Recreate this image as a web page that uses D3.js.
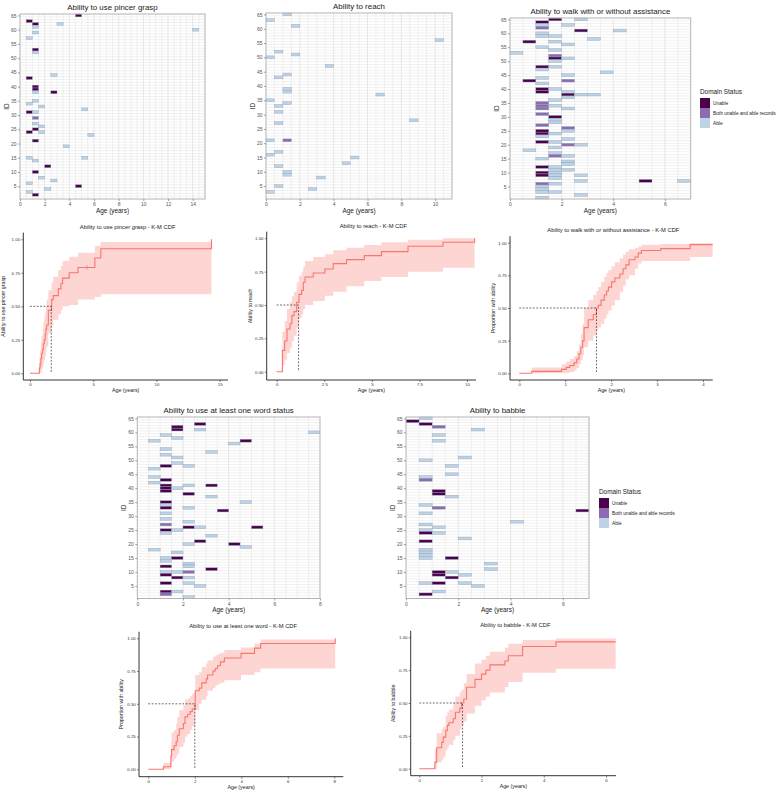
<!DOCTYPE html>
<html>
<head>
<meta charset="utf-8">
<script src="https://cdn.jsdelivr.net/npm/d3@7"></script>
<style>
	body { margin: 0; background: #fff; }
	svg { display: block; font-family: "Liberation Sans", Arial, Helvetica, sans-serif; }
</style>
</head>
<body>
<svg id="chart" width="784" height="792"></svg>
<script>
(function() {
	"use strict";

	var statusCodes = ['U', 'B', 'A'];
	var statusLabels = ['Unable', 'Both unable and able records', 'Able'];
	var statusColors = ['#4d004b', '#8c6bb1', '#bfd3e6'];

	var idTicks = [5, 10, 15, 20, 25, 30, 35, 40, 45, 50, 55, 60, 65];

	// tiles: [ID, start of half-year age bin, status]
	var pincerTiles = [
		[65, 4.5, 'U'], [63, 0.5, 'U'], [62, 1.0, 'U'], [62, 3.0, 'A'], [61, 1.0, 'A'], [60, 14.0, 'A'],
		[59, 1.0, 'A'], [57, 0.5, 'A'], [53, 1.0, 'U'], [52, 1.0, 'A'], [44, 2.5, 'A'], [43, 0.5, 'U'],
		[40, 1.0, 'U'], [39, 1.0, 'U'], [38, 1.0, 'A'], [38, 2.5, 'U'], [35, 1.0, 'A'], [34, 0.5, 'A'],
		[33, 1.5, 'A'], [32, 5.0, 'A'], [31, 0.5, 'U'], [31, 1.0, 'A'], [29, 1.0, 'B'], [27, 1.0, 'A'],
		[26, 1.5, 'A'], [25, 1.0, 'U'], [24, 0.5, 'U'], [24, 1.5, 'A'], [23, 5.5, 'A'], [21, 1.0, 'U'],
		[19, 3.5, 'A'], [15, 0.5, 'A'], [15, 5.0, 'A'], [14, 1.0, 'A'], [12, 2.0, 'U'], [10, 1.0, 'U'],
		[8, 1.5, 'A'], [7, 2.5, 'A'], [6, 0.5, 'A'], [5, 4.5, 'U'], [4, 2.0, 'A'], [3, 0.5, 'A'], [2, 1.0, 'U']
	];

	var reachTiles = [
		[65, 1.0, 'A'], [63, 0, 'A'], [61, 1.5, 'A'], [56, 10.0, 'A'], [52, 0.5, 'A'], [51, 1.5, 'A'],
		[50, 0, 'A'], [47, 3.5, 'A'], [44, 1.0, 'A'], [43, 0.5, 'A'], [39, 1.0, 'A'], [38, 1.0, 'A'],
		[37, 6.5, 'A'], [35, 0, 'A'], [34, 1.0, 'A'], [33, 0.5, 'A'], [31, 0.5, 'A'], [28, 8.5, 'A'],
		[27, 0.5, 'A'], [21, 0, 'A'], [21, 1.0, 'B'], [17, 0.5, 'A'], [16, 0, 'A'], [15, 5.0, 'A'],
		[13, 4.5, 'A'], [12, 0.5, 'A'], [10, 1.0, 'A'], [9, 1.0, 'A'], [8, 3.0, 'A'], [5, 0.5, 'A'],
		[4, 2.5, 'A'], [3, 0, 'A']
	];

	var walkTiles = [
		[65, 1.5, 'U'], [65, 2.5, 'A'], [64, 1.0, 'U'], [63, 1.0, 'A'], [63, 2.0, 'A'], [62, 1.0, 'B'],
		[61, 2.5, 'U'], [61, 4.0, 'A'], [60, 1.0, 'A'], [59, 1.0, 'A'], [59, 1.5, 'A'], [58, 3.0, 'A'],
		[57, 0.5, 'U'], [57, 1.5, 'A'], [56, 2.0, 'A'], [55, 1.0, 'A'], [54, 1.5, 'A'], [53, 0, 'A'],
		[52, 1.5, 'B'], [51, 1.5, 'U'], [51, 2.0, 'A'], [50, 1.5, 'A'], [48, 1.0, 'U'], [48, 1.5, 'A'],
		[47, 1.0, 'A'], [46, 3.5, 'A'], [45, 2.0, 'A'], [44, 1.0, 'A'], [43, 0.5, 'U'], [43, 2.0, 'B'],
		[42, 1.0, 'A'], [40, 1.0, 'U'], [40, 1.5, 'A'], [39, 1.0, 'U'], [39, 2.0, 'A'], [38, 2.0, 'U'],
		[38, 2.5, 'A'], [38, 3.0, 'A'], [37, 2.0, 'A'], [36, 1.5, 'A'], [35, 1.0, 'B'], [34, 1.0, 'B'],
		[34, 1.5, 'A'], [33, 1.0, 'B'], [33, 2.0, 'A'], [31, 1.0, 'B'], [30, 1.5, 'U'], [29, 1.5, 'A'],
		[28, 1.5, 'A'], [27, 1.0, 'B'], [26, 2.0, 'B'], [25, 1.0, 'U'], [25, 2.0, 'A'], [24, 1.0, 'U'],
		[24, 1.5, 'A'], [23, 1.0, 'A'], [22, 2.0, 'A'], [21, 1.0, 'U'], [21, 1.5, 'A'], [20, 2.0, 'B'],
		[20, 2.5, 'A'], [19, 1.5, 'A'], [18, 0.5, 'A'], [17, 1.5, 'A'], [16, 1.5, 'B'], [16, 2.0, 'A'],
		[15, 1.0, 'A'], [14, 2.0, 'A'], [13, 2.0, 'A'], [12, 1.0, 'U'], [12, 1.5, 'A'], [11, 1.5, 'A'],
		[11, 2.0, 'A'], [10, 1.0, 'U'], [10, 1.5, 'A'], [9, 1.0, 'U'], [9, 1.5, 'A'], [9, 2.5, 'A'],
		[8, 1.5, 'A'], [7, 2.5, 'A'], [7, 5.0, 'U'], [7, 6.5, 'A'], [6, 1.0, 'B'], [6, 1.5, 'A'],
		[5, 1.0, 'A'], [4, 1.0, 'A'], [3, 1.0, 'A'], [3, 1.5, 'A'], [2, 2.5, 'A'], [1, 1.0, 'A']
	];

	var wordTiles = [
		[63, 2.5, 'U'], [62, 1.5, 'U'], [61, 1.5, 'U'], [61, 2.5, 'A'], [60, 7.5, 'A'], [59, 1.0, 'A'],
		[58, 1.5, 'A'], [57, 0.5, 'A'], [57, 4.5, 'U'], [56, 4.0, 'A'], [54, 1.0, 'A'], [53, 3.0, 'A'],
		[52, 1.0, 'A'], [51, 1.5, 'A'], [49, 1.5, 'A'], [48, 1.0, 'U'], [48, 2.0, 'A'], [47, 0.5, 'A'],
		[44, 0.5, 'A'], [43, 1.0, 'U'], [42, 0.5, 'A'], [41, 1.0, 'U'], [41, 2.0, 'A'], [41, 3.0, 'U'],
		[40, 1.0, 'U'], [40, 1.5, 'A'], [39, 1.0, 'U'], [38, 2.0, 'U'], [37, 3.0, 'A'], [35, 1.0, 'U'],
		[35, 4.5, 'A'], [34, 1.0, 'A'], [33, 1.0, 'U'], [33, 2.0, 'A'], [32, 3.5, 'U'], [31, 1.0, 'A'],
		[29, 1.0, 'A'], [28, 2.0, 'A'], [27, 1.0, 'B'], [26, 2.0, 'U'], [26, 2.5, 'A'], [26, 5.0, 'U'],
		[25, 1.0, 'U'], [25, 1.5, 'A'], [24, 1.0, 'A'], [23, 3.0, 'A'], [21, 2.5, 'U'], [20, 2.0, 'A'],
		[20, 4.0, 'U'], [19, 4.5, 'A'], [18, 0.5, 'A'], [17, 1.5, 'A'], [15, 1.0, 'A'], [15, 1.5, 'U'],
		[14, 1.0, 'A'], [13, 2.0, 'A'], [12, 1.0, 'U'], [12, 2.0, 'A'], [11, 3.0, 'U'], [10, 1.0, 'A'],
		[10, 1.5, 'A'], [10, 2.0, 'B'], [9, 1.0, 'U'], [8, 1.5, 'U'], [8, 2.0, 'A'], [6, 1.0, 'U'],
		[6, 2.0, 'A'], [5, 2.5, 'A'], [3, 1.0, 'U'], [3, 1.5, 'A'], [2, 1.0, 'B'], [1, 2.0, 'A']
	];

	var babbleTiles = [
		[65, 0.5, 'A'], [64, 0, 'U'], [63, 0.5, 'U'], [62, 1.0, 'B'], [61, 2.5, 'A'], [59, 1.0, 'A'],
		[57, 1.0, 'A'], [51, 2.0, 'A'], [50, 0.5, 'A'], [48, 1.5, 'A'], [45, 1.5, 'A'], [44, 0.5, 'A'],
		[43, 0.5, 'B'], [39, 1.0, 'U'], [38, 1.0, 'U'], [37, 1.5, 'A'], [34, 0.5, 'A'], [33, 1.0, 'B'],
		[32, 6.5, 'U'], [31, 0.5, 'A'], [28, 4.0, 'A'], [27, 0.5, 'A'], [26, 1.0, 'A'], [25, 0.5, 'A'],
		[24, 0.5, 'U'], [24, 1.0, 'A'], [22, 2.0, 'A'], [21, 0.5, 'U'], [18, 0.5, 'A'], [17, 0.5, 'A'],
		[16, 0.5, 'A'], [15, 0.5, 'A'], [15, 1.5, 'U'], [13, 3.0, 'A'], [11, 3.0, 'A'], [10, 1.0, 'U'],
		[10, 1.5, 'A'], [9, 1.0, 'U'], [9, 2.0, 'A'], [8, 1.5, 'U'], [6, 0.5, 'A'], [6, 1.0, 'U'],
		[6, 2.0, 'A'], [5, 2.5, 'A'], [3, 1.0, 'A'], [2, 0.5, 'U']
	];

	// K-M curves: step times (years), estimate, upper and lower band
	var pincerTime = [0, 0.74, 0.8, 0.86, 0.92, 1.0, 1.06, 1.13, 1.2, 1.26, 1.32, 1.45, 1.71, 1.84, 2.24, 2.45, 2.58, 3.1, 3.8, 5.13, 5.6, 14.35];
	var pincerEst = [0, 0.04, 0.07, 0.11, 0.15, 0.18, 0.22, 0.25, 0.29, 0.33, 0.36, 0.47, 0.55, 0.58, 0.63, 0.67, 0.71, 0.75, 0.79, 0.86, 0.93, 1.0];
	var pincerUpper = [0, 0.12, 0.17, 0.23, 0.28, 0.33, 0.38, 0.42, 0.46, 0.5, 0.55, 0.62, 0.68, 0.72, 0.77, 0.8, 0.84, 0.87, 0.9, 0.95, 0.98, 0.98];
	var pincerLower = [0, 0, 0, 0.01, 0.03, 0.05, 0.08, 0.1, 0.13, 0.17, 0.2, 0.3, 0.36, 0.4, 0.44, 0.47, 0.5, 0.51, 0.55, 0.57, 0.59, 0.59];
	var pincerCensor = [4.5];

	var reachTime = [0, 0.3, 0.42, 0.54, 0.7, 0.8, 0.91, 1.05, 1.17, 1.31, 1.4, 1.49, 1.92, 2.53, 2.97, 3.67, 4.6, 5.5, 6.9, 8.74, 10.4];
	var reachEst = [0, 0.16, 0.23, 0.32, 0.36, 0.42, 0.45, 0.52, 0.58, 0.61, 0.67, 0.71, 0.74, 0.77, 0.81, 0.84, 0.87, 0.9, 0.94, 0.97, 1.0];
	var reachUpper = [0, 0.3, 0.38, 0.47, 0.52, 0.57, 0.6, 0.67, 0.72, 0.75, 0.79, 0.83, 0.86, 0.88, 0.91, 0.93, 0.95, 0.97, 0.99, 1.0, 1.0];
	var reachLower = [0, 0.05, 0.09, 0.14, 0.18, 0.23, 0.27, 0.33, 0.4, 0.43, 0.47, 0.5, 0.53, 0.57, 0.6, 0.64, 0.68, 0.71, 0.75, 0.78, 0.78];

	var walkTime = [0, 0.27, 0.92, 1.02, 1.1, 1.19, 1.25, 1.3, 1.34, 1.38, 1.41, 1.5, 1.61, 1.68, 1.72, 1.78, 1.85, 1.9, 1.94, 2.01, 2.08, 2.19, 2.26, 2.32, 2.39, 2.52, 2.59, 2.66, 3.08, 3.72, 4.21];
	var walkEst = [0, 0.015, 0.03, 0.045, 0.06, 0.08, 0.11, 0.15, 0.2, 0.25, 0.35, 0.41, 0.45, 0.5, 0.52, 0.56, 0.6, 0.63, 0.66, 0.7, 0.73, 0.76, 0.8, 0.83, 0.87, 0.89, 0.92, 0.94, 0.955, 0.985, 0.985];
	var walkUpper = [0, 0.045, 0.07, 0.09, 0.11, 0.13, 0.17, 0.22, 0.3, 0.38, 0.5, 0.56, 0.6, 0.63, 0.66, 0.7, 0.74, 0.77, 0.79, 0.82, 0.85, 0.88, 0.91, 0.93, 0.95, 0.96, 0.97, 0.985, 0.99, 0.995, 0.995];
	var walkLower = [0, 0, 0, 0.005, 0.01, 0.02, 0.04, 0.07, 0.1, 0.14, 0.2, 0.25, 0.29, 0.33, 0.35, 0.38, 0.42, 0.45, 0.48, 0.52, 0.56, 0.62, 0.67, 0.72, 0.75, 0.8, 0.84, 0.86, 0.86, 0.89, 0.89];

	var wordTime = [0, 0.65, 0.97, 1.0, 1.11, 1.2, 1.25, 1.33, 1.51, 1.58, 1.69, 1.8, 1.89, 2.02, 2.19, 2.3, 2.49, 2.55, 2.78, 2.88, 2.98, 3.1, 3.27, 3.99, 4.57, 4.83, 8.04];
	var wordEst = [0, 0.02, 0.1, 0.15, 0.18, 0.21, 0.26, 0.31, 0.35, 0.4, 0.42, 0.44, 0.46, 0.6, 0.62, 0.66, 0.69, 0.72, 0.75, 0.77, 0.79, 0.82, 0.85, 0.885, 0.925, 0.96, 1.0];
	var wordUpper = [0, 0.05, 0.2, 0.28, 0.3, 0.35, 0.4, 0.45, 0.49, 0.53, 0.54, 0.56, 0.58, 0.72, 0.74, 0.78, 0.81, 0.83, 0.86, 0.87, 0.88, 0.89, 0.91, 0.93, 0.96, 0.99, 0.99];
	var wordLower = [0, 0, 0.03, 0.06, 0.08, 0.1, 0.12, 0.17, 0.2, 0.25, 0.27, 0.3, 0.33, 0.45, 0.5, 0.53, 0.56, 0.6, 0.62, 0.64, 0.65, 0.66, 0.68, 0.72, 0.74, 0.77, 0.77];

	var babbleTime = [0, 0.5, 0.56, 0.72, 0.77, 0.85, 0.9, 0.95, 1.09, 1.16, 1.3, 1.36, 1.43, 1.52, 1.79, 2.0, 2.14, 2.27, 2.75, 2.86, 3.32, 4.39, 6.31];
	var babbleEst = [0, 0.05, 0.16, 0.2, 0.24, 0.29, 0.33, 0.35, 0.38, 0.43, 0.46, 0.5, 0.53, 0.62, 0.68, 0.72, 0.75, 0.79, 0.82, 0.86, 0.93, 0.965, 0.965];
	var babbleUpper = [0, 0.15, 0.27, 0.3, 0.32, 0.4, 0.43, 0.45, 0.5, 0.55, 0.58, 0.6, 0.65, 0.72, 0.8, 0.83, 0.86, 0.89, 0.92, 0.95, 0.98, 0.99, 0.99];
	var babbleLower = [0, 0, 0.05, 0.07, 0.09, 0.14, 0.16, 0.18, 0.22, 0.25, 0.3, 0.33, 0.36, 0.42, 0.48, 0.52, 0.55, 0.58, 0.62, 0.66, 0.73, 0.76, 0.76];

	// median ages (years)
	var medians = { pincer: 1.68, reach: 1.15, walk: 1.68, word: 2.0, babble: 1.39 };

	var svg = d3.select('#chart');

	var statusColor = d3.scaleOrdinal().domain(statusCodes).range(statusColors);

	drawHeatmap(svg, { title: 'Ability to use pincer grasp', tiles: pincerTiles, xMax: 15, xTicks: d3.range(0, 15, 2),
		left: 20, right: 205, top: 14, bottom: 199 });
	drawHeatmap(svg, { title: 'Ability to reach', tiles: reachTiles, xMax: 11, xTicks: d3.range(0, 11, 2),
		left: 266, right: 452, top: 13, bottom: 199 });
	drawHeatmap(svg, { title: 'Ability to walk with or without assistance', tiles: walkTiles, xMax: 7, xTicks: d3.range(0, 7, 2),
		left: 510, right: 690.7, top: 18, bottom: 199 });
	drawHeatmap(svg, { title: 'Ability to use at least one word status', tiles: wordTiles, xMax: 8, xTicks: d3.range(0, 9, 2),
		left: 137.3, right: 320, top: 417, bottom: 598.5 });
	drawHeatmap(svg, { title: 'Ability to babble', tiles: babbleTiles, xMax: 7, xTicks: d3.range(0, 7, 2),
		left: 406, right: 589, top: 417, bottom: 598.5 });

	drawLegend(svg, 700, 94);
	drawLegend(svg, 599, 494);

	drawKM(svg, { title: 'Ability to use pincer grasp - K-M CDF', yLabel: 'Ability to use pincer grasp',
		time: pincerTime, est: pincerEst, upper: pincerUpper, lower: pincerLower, censor: pincerCensor, median: medians.pincer,
		xTickMax: 15, xTicks: [0, 5, 10, 15], x0: 30, x1: 219.7, axisLeft: 23.3, axisRight: 228,
		y0: 373.3, y1: 239.3, axisBottom: 380, yLabelX: 5 });
	drawKM(svg, { title: 'Ability to reach - K-M CDF', yLabel: 'Ability to reach',
		time: reachTime, est: reachEst, upper: reachUpper, lower: reachLower, censor: [], median: medians.reach,
		xTickMax: 10, xTicks: [0, 2.5, 5, 7.5, 10], x0: 276.7, x1: 467, axisLeft: 266.7, axisRight: 476,
		y0: 371.7, y1: 238.3, axisBottom: 380, yLabelX: 252 });
	drawKM(svg, { title: 'Ability to walk with or without assistance - K-M CDF', yLabel: 'Proportion with ability',
		time: walkTime, est: walkEst, upper: walkUpper, lower: walkLower, censor: [], median: medians.walk,
		xTickMax: 4, xTicks: [0, 1, 2, 3, 4], x0: 519.3, x1: 703, axisLeft: 510, axisRight: 712.7,
		y0: 373.3, y1: 242.7, axisBottom: 380, yLabelX: 495 });
	drawKM(svg, { title: 'Ability to use at least one word - K-M CDF', yLabel: 'Proportion with ability',
		time: wordTime, est: wordEst, upper: wordUpper, lower: wordLower, censor: [], median: medians.word,
		xTickMax: 8, xTicks: [0, 2, 4, 6, 8], x0: 148.3, x1: 334.3, axisLeft: 139, axisRight: 343.3,
		y0: 769.3, y1: 638.3, axisBottom: 776.7, yLabelX: 123 });
	drawKM(svg, { title: 'Ability to babble - K-M CDF', yLabel: 'Ability to babble',
		time: babbleTime, est: babbleEst, upper: babbleUpper, lower: babbleLower, censor: [], median: medians.babble,
		xTickMax: 6, xTicks: [0, 2, 4, 6], x0: 419.3, x1: 606, axisLeft: 410.7, axisRight: 616,
		y0: 768.7, y1: 637.3, axisBottom: 775.7, yLabelX: 395 });

	function styleAxis(axisGroup, fontSize, tickColor, textColor) {
		axisGroup.select('.domain').remove();
		axisGroup.selectAll('.tick line').attr('stroke', tickColor).attr('stroke-width', 0.6);
		axisGroup.selectAll('.tick text')
			.attr('fill', textColor)
			.style('font-size', fontSize + 'px')
			.style('font-family', '"Liberation Sans", Arial, sans-serif');
	}

	function drawHeatmap(svg, cfg) {
		var x = d3.scaleLinear().domain([0, cfg.xMax]).range([cfg.left, cfg.right]);
		var y = d3.scaleLinear().domain([0.5, 65.5]).range([cfg.bottom, cfg.top]);
		var g = svg.append('g').classed('heatmap', true);

		g.append('rect')
			.attr('x', cfg.left).attr('y', cfg.top)
			.attr('width', cfg.right - cfg.left).attr('height', cfg.bottom - cfg.top)
			.attr('fill', '#fff');

		g.selectAll('line.hgrid')
			.data(d3.range(1.5, 65.5, 1))
			.enter().append('line')
			.classed('hgrid', true)
			.attr('x1', cfg.left).attr('x2', cfg.right)
			.attr('y1', function (d) { return y(d); })
			.attr('y2', function (d) { return y(d); })
			.attr('stroke', '#e3e3e3').attr('stroke-width', 0.5);

		g.selectAll('line.vgrid')
			.data(d3.range(0.5, cfg.xMax, 0.5))
			.enter().append('line')
			.classed('vgrid', true)
			.attr('y1', cfg.top).attr('y2', cfg.bottom)
			.attr('x1', function (d) { return x(d); })
			.attr('x2', function (d) { return x(d); })
			.attr('stroke', function (d) { return d % 2 === 0 ? '#d2d2d2' : '#e3e3e3'; })
			.attr('stroke-width', 0.5);

		g.selectAll('rect.tile')
			.data(cfg.tiles)
			.enter().append('rect')
			.classed('tile', true)
			.attr('x', function (d) { return x(d[1]); })
			.attr('y', function (d) { return y(d[0] + 0.5); })
			.attr('width', function (d) { return x(d[1] + 0.5) - x(d[1]); })
			.attr('height', function (d) { return y(d[0] - 0.5) - y(d[0] + 0.5); })
			.attr('fill', function (d) { return statusColor(d[2]); })
			.attr('stroke', '#8ea2b6')
			.attr('stroke-width', 0.4);

		g.append('rect')
			.attr('x', cfg.left).attr('y', cfg.top)
			.attr('width', cfg.right - cfg.left).attr('height', cfg.bottom - cfg.top)
			.attr('fill', 'none')
			.attr('stroke', '#b3b3b3').attr('stroke-width', 1);

		var yAxis = g.append('g')
			.attr('transform', 'translate(' + cfg.left + ',0)')
			.call(d3.axisLeft(y).tickValues(idTicks).tickFormat(d3.format('d')).tickSize(2).tickPadding(1.5));
		styleAxis(yAxis, 5, '#666', '#555');

		var xAxis = g.append('g')
			.attr('transform', 'translate(0,' + cfg.bottom + ')')
			.call(d3.axisBottom(x).tickValues(cfg.xTicks).tickFormat(d3.format('d')).tickSize(2).tickPadding(1.5));
		styleAxis(xAxis, 5, '#666', '#555');

		g.append('text')
			.attr('x', (cfg.left + cfg.right) / 2).attr('y', cfg.top - 4.5)
			.attr('text-anchor', 'middle')
			.style('font-size', '7.9px').attr('fill', '#1a1a1a')
			.text(cfg.title);

		g.append('text')
			.attr('x', (cfg.left + cfg.right) / 2).attr('y', cfg.bottom + 13.5)
			.attr('text-anchor', 'middle')
			.style('font-size', '6.4px').attr('fill', '#1a1a1a')
			.text('Age (years)');

		g.append('text')
			.attr('transform', 'translate(' + (cfg.left - 11.5) + ',' + ((cfg.top + cfg.bottom) / 2) + ') rotate(-90)')
			.attr('text-anchor', 'middle')
			.style('font-size', '6.4px').attr('fill', '#1a1a1a')
			.text('ID');
	}

	function drawLegend(svg, left, top) {
		var g = svg.append('g').classed('legend', true);
		g.append('text')
			.attr('x', left).attr('y', top)
			.style('font-size', '6.4px').attr('fill', '#1a1a1a')
			.text('Domain Status');

		var keys = g.selectAll('g.key')
			.data(statusCodes)
			.enter().append('g')
			.classed('key', true)
			.attr('transform', function (d, i) { return 'translate(' + left + ',' + (top + 4 + i * 10) + ')'; });

		keys.append('rect')
			.attr('width', 10).attr('height', 10)
			.attr('fill', function (d) { return statusColor(d); });

		keys.append('text')
			.attr('x', 13).attr('y', 6.7)
			.style('font-size', '4.8px').attr('fill', '#1a1a1a')
			.text(function (d, i) { return statusLabels[i]; });
	}

	function drawKM(svg, cfg) {
		var x = d3.scaleLinear().domain([0, cfg.xTickMax]).range([cfg.x0, cfg.x1]);
		var y = d3.scaleLinear().domain([0, 1]).range([cfg.y0, cfg.y1]);
		var axisTop = y(1.05);
		var g = svg.append('g').classed('km', true);

		var points = cfg.time.map(function (t, i) {
			return { t: t, est: cfg.est[i], upper: cfg.upper[i], lower: cfg.lower[i] };
		});

		var band = d3.area()
			.curve(d3.curveStepAfter)
			.x(function (d) { return x(d.t); })
			.y0(function (d) { return y(d.lower); })
			.y1(function (d) { return y(d.upper); });

		var line = d3.line()
			.curve(d3.curveStepAfter)
			.x(function (d) { return x(d.t); })
			.y(function (d) { return y(d.est); });

		g.append('path')
			.datum(points)
			.attr('d', band)
			.attr('fill', '#F8766D')
			.attr('fill-opacity', 0.3);

		g.append('path')
			.datum(points)
			.attr('d', line)
			.attr('fill', 'none')
			.attr('stroke', '#F8766D')
			.attr('stroke-width', 1.1);

		function estAt(t) {
			return d3.max(points.filter(function (p) { return p.t <= t; }), function (p) { return p.est; });
		}

		g.selectAll('line.censor')
			.data(cfg.censor)
			.enter().append('line')
			.classed('censor', true)
			.attr('x1', function (d) { return x(d); })
			.attr('x2', function (d) { return x(d); })
			.attr('y1', function (d) { return y(estAt(d)) - 2; })
			.attr('y2', function (d) { return y(estAt(d)) + 2; })
			.attr('stroke', '#F8766D')
			.attr('stroke-width', 0.8);

		g.append('path')
			.attr('d', d3.line()([[x(0), y(0.5)], [x(cfg.median), y(0.5)], [x(cfg.median), y(0)]]))
			.attr('fill', 'none')
			.attr('stroke', '#000')
			.attr('stroke-width', 0.6)
			.attr('stroke-dasharray', '1.8,1.6');

		g.append('line')
			.attr('x1', cfg.axisLeft).attr('x2', cfg.axisLeft)
			.attr('y1', axisTop).attr('y2', cfg.axisBottom)
			.attr('stroke', '#000').attr('stroke-width', 0.8);
		g.append('line')
			.attr('x1', cfg.axisLeft).attr('x2', cfg.axisRight)
			.attr('y1', cfg.axisBottom).attr('y2', cfg.axisBottom)
			.attr('stroke', '#000').attr('stroke-width', 0.8);

		var yAxis = g.append('g')
			.attr('transform', 'translate(' + cfg.axisLeft + ',0)')
			.call(d3.axisLeft(y).tickValues([0, 0.25, 0.5, 0.75, 1]).tickFormat(d3.format('.2f')).tickSize(2).tickPadding(1.2));
		styleAxis(yAxis, 4.4, '#333', '#333');

		var xAxis = g.append('g')
			.attr('transform', 'translate(0,' + cfg.axisBottom + ')')
			.call(d3.axisBottom(x).tickValues(cfg.xTicks).tickFormat(d3.format('~g')).tickSize(2).tickPadding(1.2));
		styleAxis(xAxis, 4.4, '#333', '#333');

		g.append('text')
			.attr('x', (cfg.axisLeft + cfg.axisRight) / 2 + 2).attr('y', axisTop - 4)
			.attr('text-anchor', 'middle')
			.style('font-size', '5.8px').attr('fill', '#1a1a1a')
			.text(cfg.title);

		g.append('text')
			.attr('x', (cfg.axisLeft + cfg.axisRight) / 2).attr('y', cfg.axisBottom + 12)
			.attr('text-anchor', 'middle')
			.style('font-size', '5.3px').attr('fill', '#1a1a1a')
			.text('Age (years)');

		g.append('text')
			.attr('transform', 'translate(' + cfg.yLabelX + ',' + ((axisTop + cfg.axisBottom) / 2) + ') rotate(-90)')
			.attr('text-anchor', 'middle')
			.style('font-size', '5.3px').attr('fill', '#1a1a1a')
			.text(cfg.yLabel);
	}
}());
</script>
</body>
</html>
